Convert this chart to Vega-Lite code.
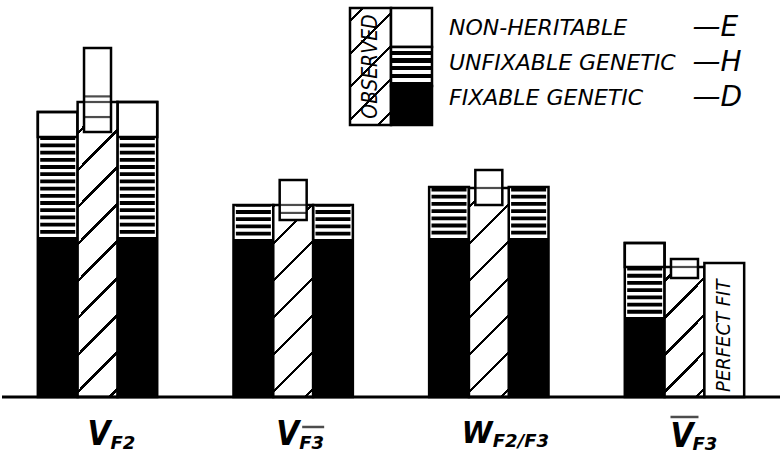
{
"$schema": "https://vega.github.io/schema/vega-lite/v6.json",
"width": 782, "height": 461,
"autosize": {"type": "fit", "contains": "padding"},
"padding": 0,
"background": "white",
"config": {"view": {"stroke": null}, "axis": {"disable": true}},
"datasets": {
 "models": [
  {"g":"VF2","b":"left","D":54.2,"DH":88.1,"T":96.6},
  {"g":"VF2","b":"right","D":54.2,"DH":88.1,"T":100.0},
  {"g":"VF3","b":"left","D":53.6,"DH":65.1,"T":65.1},
  {"g":"VF3","b":"right","D":53.6,"DH":65.1,"T":65.1},
  {"g":"W","b":"left","D":53.9,"DH":71.2,"T":71.2},
  {"g":"W","b":"right","D":53.9,"DH":71.2,"T":71.2},
  {"g":"VbarF3","b":"left","D":27.1,"DH":44.1,"T":52.2}
 ],
 "perfect": [{"g":"VbarF3","b":"right","T":45.4,"label":"PERFECT FIT"}],
 "observed": [
  {"g":"VF2","b":"obs","obs":100.0,"lo":89.8,"hi":118.3},
  {"g":"VF3","b":"obs","obs":65.1,"lo":60.0,"hi":73.6},
  {"g":"W","b":"obs","obs":70.85,"lo":65.1,"hi":76.95},
  {"g":"VbarF3","b":"obs","obs":44.07,"lo":40.3,"hi":46.8}
 ],
 "boxlines": [
  {"g":"VF2","b":"obs","v":100.0},{"g":"VF2","b":"obs","v":101.9},{"g":"VF2","b":"obs","v":94.9},
  {"g":"VF3","b":"obs","v":65.1},{"g":"VF3","b":"obs","v":62.4},
  {"g":"W","b":"obs","v":70.85},
  {"g":"VbarF3","b":"obs","v":44.07}
 ],
 "labels": [
  {"g":"VF2","m":"V","s":"F2"},
  {"g":"VF3","m":"V","s":"F3"},
  {"g":"W","m":"W","s":"F2/F3"},
  {"g":"VbarF3","m":"V","s":"F3"}
 ],
 "legend": [
  {"k":"E","label":"NON-HERITABLE","letter":"—E"},
  {"k":"H","label":"UNFIXABLE GENETIC","letter":"—H"},
  {"k":"D","label":"FIXABLE GENETIC","letter":"—D"}
 ]
},
"layer": [
 {
  "layer": [
   {"data":{"name":"models"},"mark":{"type":"bar","fill":"white"},
    "encoding":{"x":{"field":"g","type":"nominal","scale":{"domain":["VF2","VF3","W","VbarF3"],"paddingInner":0.3898,"paddingOuter":0.1831},"axis":null},
     "xOffset":{"field":"b","type":"nominal","scale":{"domain":["left","obs","right"],"paddingInner":0,"paddingOuter":0}},
     "y":{"field":"T","type":"quantitative","scale":{"domain":[-21.7,134.58],"nice":false,"zero":false},"axis":null},
     "y2":{"datum":0}}},
   {"data":{"name":"models"},"mark":{"type":"bar","fill":"black"},
    "encoding":{"x":{"field":"g","type":"nominal"},"xOffset":{"field":"b","type":"nominal"},
     "y":{"field":"D","type":"quantitative"},"y2":{"datum":0}}},
   {"data":{"name":"models"},"mark":{"type":"rule","stroke":"black","strokeWidth":35,"strokeDash":[3.8,3.4],"strokeDashOffset":3.8,"strokeCap":"butt"},
    "encoding":{"x":{"field":"g","type":"nominal"},"xOffset":{"field":"b","type":"nominal"},
     "y":{"field":"D","type":"quantitative"},"y2":{"field":"DH"}}},
   {"data":{"name":"models"},"transform":[{"filter":"datum.T > datum.DH"}],"mark":{"type":"bar","fill":"white","stroke":"black","strokeWidth":2.5},
    "encoding":{"x":{"field":"g","type":"nominal"},"xOffset":{"field":"b","type":"nominal"},
     "y":{"field":"T","type":"quantitative"},"y2":{"field":"DH"}}},
   {"data":{"name":"models"},"mark":{"type":"bar","fill":"white","fillOpacity":0,"stroke":"black","strokeWidth":2.5},
    "encoding":{"x":{"field":"g","type":"nominal"},"xOffset":{"field":"b","type":"nominal"},
     "y":{"field":"T","type":"quantitative"},"y2":{"datum":0}}},
   {"data":{"name":"observed"},"transform":[{"filter":"datum.g === 'VF2'"}],
    "mark":{"type":"bar","stroke":"black","strokeWidth":2.5,"fill":{"gradient":"linear","x1":0,"y1":0,"x2":0.1512,"y2":1.1151,"stops":[
     {"offset":0,"color":"white"},
     {"offset":0.08776,"color":"white"},{"offset":0.08776,"color":"black"},{"offset":0.09731,"color":"black"},{"offset":0.09731,"color":"white"},
     {"offset":0.19821,"color":"white"},{"offset":0.19821,"color":"black"},{"offset":0.20776,"color":"black"},{"offset":0.20776,"color":"white"},
     {"offset":0.30866,"color":"white"},{"offset":0.30866,"color":"black"},{"offset":0.31821,"color":"black"},{"offset":0.31821,"color":"white"},
     {"offset":0.4191,"color":"white"},{"offset":0.4191,"color":"black"},{"offset":0.42866,"color":"black"},{"offset":0.42866,"color":"white"},
     {"offset":0.52955,"color":"white"},{"offset":0.52955,"color":"black"},{"offset":0.5391,"color":"black"},{"offset":0.5391,"color":"white"},
     {"offset":0.64,"color":"white"},{"offset":0.64,"color":"black"},{"offset":0.64955,"color":"black"},{"offset":0.64955,"color":"white"},
     {"offset":0.75045,"color":"white"},{"offset":0.75045,"color":"black"},{"offset":0.76,"color":"black"},{"offset":0.76,"color":"white"},
     {"offset":0.8609,"color":"white"},{"offset":0.8609,"color":"black"},{"offset":0.87045,"color":"black"},{"offset":0.87045,"color":"white"},
     {"offset":0.97134,"color":"white"},{"offset":0.97134,"color":"black"},{"offset":0.9809,"color":"black"},{"offset":0.9809,"color":"white"},
     {"offset":1,"color":"white"}]}},
    "encoding":{"x":{"field":"g","type":"nominal"},"xOffset":{"field":"b","type":"nominal"},
     "y":{"field":"obs","type":"quantitative"},"y2":{"datum":0}}},
   {"data":{"name":"observed"},"transform":[{"filter":"datum.g === 'VF3'"}],
    "mark":{"type":"bar","stroke":"black","strokeWidth":2.5,"fill":{"gradient":"linear","x1":0,"y1":0,"x2":0.24126,"y2":1.15807,"stops":[
     {"offset":0,"color":"white"},
     {"offset":0.00172,"color":"white"},{"offset":0.00172,"color":"black"},{"offset":0.01552,"color":"black"},{"offset":0.01552,"color":"white"},
     {"offset":0.16121,"color":"white"},{"offset":0.16121,"color":"black"},{"offset":0.175,"color":"black"},{"offset":0.175,"color":"white"},
     {"offset":0.32069,"color":"white"},{"offset":0.32069,"color":"black"},{"offset":0.33448,"color":"black"},{"offset":0.33448,"color":"white"},
     {"offset":0.48017,"color":"white"},{"offset":0.48017,"color":"black"},{"offset":0.49397,"color":"black"},{"offset":0.49397,"color":"white"},
     {"offset":0.63966,"color":"white"},{"offset":0.63966,"color":"black"},{"offset":0.65345,"color":"black"},{"offset":0.65345,"color":"white"},
     {"offset":0.79914,"color":"white"},{"offset":0.79914,"color":"black"},{"offset":0.81293,"color":"black"},{"offset":0.81293,"color":"white"},
     {"offset":0.95862,"color":"white"},{"offset":0.95862,"color":"black"},{"offset":0.97241,"color":"black"},{"offset":0.97241,"color":"white"},
     {"offset":1,"color":"white"}]}},
    "encoding":{"x":{"field":"g","type":"nominal"},"xOffset":{"field":"b","type":"nominal"},
     "y":{"field":"obs","type":"quantitative"},"y2":{"datum":0}}},
   {"data":{"name":"observed"},"transform":[{"filter":"datum.g === 'W'"}],
    "mark":{"type":"bar","stroke":"black","strokeWidth":2.5,"fill":{"gradient":"linear","x1":0,"y1":0,"x2":0.21996,"y2":1.14929,"stops":[
     {"offset":0,"color":"white"},
     {"offset":0.06988,"color":"white"},{"offset":0.06988,"color":"black"},{"offset":0.08273,"color":"black"},{"offset":0.08273,"color":"white"},
     {"offset":0.21847,"color":"white"},{"offset":0.21847,"color":"black"},{"offset":0.23133,"color":"black"},{"offset":0.23133,"color":"white"},
     {"offset":0.36707,"color":"white"},{"offset":0.36707,"color":"black"},{"offset":0.37992,"color":"black"},{"offset":0.37992,"color":"white"},
     {"offset":0.51566,"color":"white"},{"offset":0.51566,"color":"black"},{"offset":0.52851,"color":"black"},{"offset":0.52851,"color":"white"},
     {"offset":0.66426,"color":"white"},{"offset":0.66426,"color":"black"},{"offset":0.67711,"color":"black"},{"offset":0.67711,"color":"white"},
     {"offset":0.81285,"color":"white"},{"offset":0.81285,"color":"black"},{"offset":0.8257,"color":"black"},{"offset":0.8257,"color":"white"},
     {"offset":0.96145,"color":"white"},{"offset":0.96145,"color":"black"},{"offset":0.9743,"color":"black"},{"offset":0.9743,"color":"white"},
     {"offset":1,"color":"white"}]}},
    "encoding":{"x":{"field":"g","type":"nominal"},"xOffset":{"field":"b","type":"nominal"},
     "y":{"field":"obs","type":"quantitative"},"y2":{"datum":0}}},
   {"data":{"name":"observed"},"transform":[{"filter":"datum.g === 'VbarF3'"}],
    "mark":{"type":"bar","stroke":"black","strokeWidth":2.5,"fill":{"gradient":"linear","x1":0,"y1":0,"x2":0.36757,"y2":1.19459,"stops":[
     {"offset":0,"color":"white"},
     {"offset":0.07294,"color":"white"},{"offset":0.07294,"color":"black"},{"offset":0.09176,"color":"black"},{"offset":0.09176,"color":"white"},
     {"offset":0.29059,"color":"white"},{"offset":0.29059,"color":"black"},{"offset":0.30941,"color":"black"},{"offset":0.30941,"color":"white"},
     {"offset":0.50824,"color":"white"},{"offset":0.50824,"color":"black"},{"offset":0.52706,"color":"black"},{"offset":0.52706,"color":"white"},
     {"offset":0.72588,"color":"white"},{"offset":0.72588,"color":"black"},{"offset":0.74471,"color":"black"},{"offset":0.74471,"color":"white"},
     {"offset":0.94353,"color":"white"},{"offset":0.94353,"color":"black"},{"offset":0.96235,"color":"black"},{"offset":0.96235,"color":"white"},
     {"offset":1,"color":"white"}]}},
    "encoding":{"x":{"field":"g","type":"nominal"},"xOffset":{"field":"b","type":"nominal"},
     "y":{"field":"obs","type":"quantitative"},"y2":{"datum":0}}},
   {"data":{"name":"observed"},"mark":{"type":"bar","fill":"white","stroke":"black","strokeWidth":2.5,"width":{"band":0.226}},
    "encoding":{"x":{"field":"g","type":"nominal"},
     "y":{"field":"hi","type":"quantitative"},"y2":{"field":"lo"}}},
   {"data":{"name":"boxlines"},"mark":{"type":"tick","color":"black","size":27,"thickness":2.2},
    "encoding":{"x":{"field":"g","type":"nominal"},"xOffset":{"field":"b","type":"nominal"},
     "y":{"field":"v","type":"quantitative"}}},
   {"data":{"name":"perfect"},"mark":{"type":"bar","fill":"white","stroke":"black","strokeWidth":2.5},
    "encoding":{"x":{"field":"g","type":"nominal"},"xOffset":{"field":"b","type":"nominal"},
     "y":{"field":"T","type":"quantitative"},"y2":{"datum":0}}},
   {"data":{"name":"perfect"},"mark":{"type":"text","angle":270,"align":"left","baseline":"middle","font":"DejaVu Sans Condensed","fontStyle":"italic","fontSize":20,"color":"black"},
    "encoding":{"x":{"field":"g","type":"nominal"},"xOffset":{"field":"b","type":"nominal"},
     "y":{"datum":1.7,"type":"quantitative"},"text":{"field":"label"}}},
   {"data":{"values":[{}]},"mark":{"type":"rule","color":"black","strokeWidth":3},
    "encoding":{"y":{"datum":0,"type":"quantitative"}}},
   {"data":{"name":"labels"},"transform":[{"filter":"datum.g === 'VF2'"}],
    "mark":{"type":"text","align":"left","baseline":"alphabetic","dx":-10,"font":"DejaVu Sans Condensed","fontWeight":"bold","fontStyle":"italic","fontSize":33,"color":"black"},
    "encoding":{"x":{"field":"g","type":"nominal"},"y":{"datum":-16.27,"type":"quantitative"},"text":{"field":"m"}}},
   {"data":{"name":"labels"},"transform":[{"filter":"datum.g === 'VF2'"}],
    "mark":{"type":"text","align":"left","baseline":"alphabetic","dx":13,"font":"DejaVu Sans","fontWeight":"bold","fontStyle":"italic","fontSize":18,"color":"black"},
    "encoding":{"x":{"field":"g","type":"nominal"},"y":{"datum":-17.63,"type":"quantitative"},"text":{"field":"s"}}},
   {"data":{"name":"labels"},"transform":[{"filter":"datum.g === 'VF3'"}],
    "mark":{"type":"text","align":"left","baseline":"alphabetic","dx":-17,"font":"DejaVu Sans Condensed","fontWeight":"bold","fontStyle":"italic","fontSize":33,"color":"black"},
    "encoding":{"x":{"field":"g","type":"nominal"},"y":{"datum":-16.27,"type":"quantitative"},"text":{"field":"m"}}},
   {"data":{"name":"labels"},"transform":[{"filter":"datum.g === 'VF3'"}],
    "mark":{"type":"text","align":"left","baseline":"alphabetic","dx":6,"font":"DejaVu Sans","fontWeight":"bold","fontStyle":"italic","fontSize":18,"color":"black"},
    "encoding":{"x":{"field":"g","type":"nominal"},"y":{"datum":-17.63,"type":"quantitative"},"text":{"field":"s"}}},
   {"data":{"name":"labels"},"transform":[{"filter":"datum.g === 'VF3'"}],
    "mark":{"type":"tick","color":"black","size":22,"thickness":2.5,"xOffset":20},
    "encoding":{"x":{"field":"g","type":"nominal"},"y":{"datum":-10.17,"type":"quantitative"}}},
   {"data":{"name":"labels"},"transform":[{"filter":"datum.g === 'W'"}],
    "mark":{"type":"text","align":"left","baseline":"alphabetic","dx":-27,"font":"DejaVu Sans Condensed","fontWeight":"bold","fontStyle":"italic","fontSize":31,"color":"black"},
    "encoding":{"x":{"field":"g","type":"nominal"},"y":{"datum":-15.59,"type":"quantitative"},"text":{"field":"m"}}},
   {"data":{"name":"labels"},"transform":[{"filter":"datum.g === 'W'"}],
    "mark":{"type":"text","align":"left","baseline":"alphabetic","dx":4,"font":"DejaVu Sans","fontWeight":"bold","fontStyle":"italic","fontSize":18,"color":"black"},
    "encoding":{"x":{"field":"g","type":"nominal"},"y":{"datum":-16.95,"type":"quantitative"},"text":{"field":"s"}}},
   {"data":{"name":"labels"},"transform":[{"filter":"datum.g === 'VbarF3'"}],
    "mark":{"type":"text","align":"left","baseline":"alphabetic","dx":-14,"font":"DejaVu Sans Condensed","fontWeight":"bold","fontStyle":"italic","fontSize":33,"color":"black"},
    "encoding":{"x":{"field":"g","type":"nominal"},"y":{"datum":-16.95,"type":"quantitative"},"text":{"field":"m"}}},
   {"data":{"name":"labels"},"transform":[{"filter":"datum.g === 'VbarF3'"}],
    "mark":{"type":"text","align":"left","baseline":"alphabetic","dx":8,"font":"DejaVu Sans","fontWeight":"bold","fontStyle":"italic","fontSize":18,"color":"black"},
    "encoding":{"x":{"field":"g","type":"nominal"},"y":{"datum":-17.97,"type":"quantitative"},"text":{"field":"s"}}},
   {"data":{"name":"labels"},"transform":[{"filter":"datum.g === 'VbarF3'"}],
    "mark":{"type":"tick","color":"black","size":28,"thickness":2.5,"xOffset":0},
    "encoding":{"x":{"field":"g","type":"nominal"},"y":{"datum":-6.78,"type":"quantitative"}}}
  ]
 },
 {
  "layer": [
   {
    "layer": [
     {"data":{"name":"legend"},"transform":[{"filter":"datum.k === 'H'"}],
      "mark":{"type":"rect","stroke":"black","strokeWidth":2.5,"height":{"band":3},"fill":{"gradient":"linear","x1":0,"y1":0,"x2":0.42147,"y2":1.20273,"stops":[
       {"offset":0,"color":"white"},
       {"offset":0.07215,"color":"white"},{"offset":0.07215,"color":"black"},{"offset":0.09241,"color":"black"},{"offset":0.09241,"color":"white"},
       {"offset":0.28101,"color":"white"},{"offset":0.28101,"color":"black"},{"offset":0.30127,"color":"black"},{"offset":0.30127,"color":"white"},
       {"offset":0.48987,"color":"white"},{"offset":0.48987,"color":"black"},{"offset":0.51013,"color":"black"},{"offset":0.51013,"color":"white"},
       {"offset":0.69873,"color":"white"},{"offset":0.69873,"color":"black"},{"offset":0.71899,"color":"black"},{"offset":0.71899,"color":"white"},
       {"offset":0.90759,"color":"white"},{"offset":0.90759,"color":"black"},{"offset":0.92785,"color":"black"},{"offset":0.92785,"color":"white"},
       {"offset":1,"color":"white"}]}},
      "encoding":{"x":{"datum":"obs","type":"nominal","scale":{"domain":["obs","model"],"range":[348,430],"paddingInner":0,"paddingOuter":0},"axis":null},
       "y":{"field":"k","type":"nominal","scale":{"domain":["E","H","D"],"range":[8,125],"paddingInner":0,"paddingOuter":0},"axis":null}}},
     {"data":{"name":"legend"},"transform":[{"filter":"datum.k === 'H'"}],
      "mark":{"type":"text","angle":270,"align":"center","baseline":"middle","font":"DejaVu Sans Condensed","fontStyle":"italic","fontSize":21,"color":"black"},
      "encoding":{"x":{"datum":"obs","type":"nominal"},"y":{"field":"k","type":"nominal"},"text":{"value":"OBSERVED"}}},
     {"data":{"name":"legend"},"transform":[{"filter":"datum.k !== 'H'"}],
      "mark":{"type":"rect","stroke":"black","strokeWidth":2.5},
      "encoding":{"x":{"datum":"model","type":"nominal"},"y":{"field":"k","type":"nominal"},
       "fill":{"condition":{"test":"datum.k === 'D'","value":"black"},"value":"white"}}},
     {"data":{"name":"legend"},"transform":[{"filter":"datum.k === 'H'"}],
      "mark":{"type":"rect","stroke":"black","strokeWidth":2.5,"fill":{"gradient":"linear","x1":0,"y1":0,"x2":0,"y2":1,"stops":[
       {"offset":0,"color":"white"},{"offset":0.09,"color":"white"},{"offset":0.09,"color":"black"},{"offset":0.2,"color":"black"},
       {"offset":0.2,"color":"white"},{"offset":0.29,"color":"white"},{"offset":0.29,"color":"black"},{"offset":0.4,"color":"black"},
       {"offset":0.4,"color":"white"},{"offset":0.49,"color":"white"},{"offset":0.49,"color":"black"},{"offset":0.6,"color":"black"},
       {"offset":0.6,"color":"white"},{"offset":0.69,"color":"white"},{"offset":0.69,"color":"black"},{"offset":0.8,"color":"black"},
       {"offset":0.8,"color":"white"},{"offset":0.89,"color":"white"},{"offset":0.89,"color":"black"},{"offset":1,"color":"black"}]}},
      "encoding":{"x":{"datum":"model","type":"nominal"},"y":{"field":"k","type":"nominal"}}}
    ]
   },
   {
    "layer": [
     {"data":{"name":"legend"},
      "mark":{"type":"text","align":"left","baseline":"middle","dx":37.5,"font":"DejaVu Sans","fontStyle":"italic","fontSize":22,"color":"black"},
      "encoding":{"x":{"datum":"model","type":"nominal"},
       "y":{"field":"k","type":"nominal","scale":{"domain":["E","H","D"],"range":[10,116],"paddingInner":0,"paddingOuter":0},"axis":null},
       "text":{"field":"label"}}},
     {"data":{"name":"legend"},
      "mark":{"type":"text","align":"left","baseline":"middle","dx":281,"font":"DejaVu Sans","fontStyle":"italic","fontSize":28,"color":"black"},
      "encoding":{"x":{"datum":"model","type":"nominal"},"y":{"field":"k","type":"nominal"},"text":{"field":"letter"}}}
    ]
   }
  ],
  "resolve": {"scale": {"y": "independent"}}
 }
],
"resolve": {"scale": {"x": "independent", "y": "independent"}}
}
